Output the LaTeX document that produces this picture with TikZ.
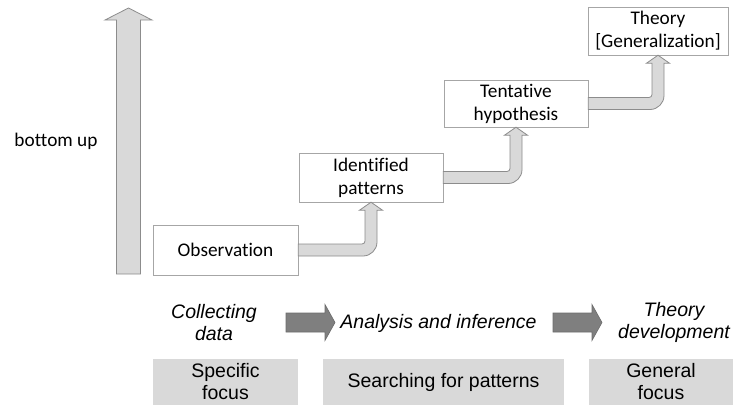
\documentclass[tikz,border=0pt]{standalone}
\usepackage{fontspec}
\setmainfont{Carlito}[Ligatures=CommonOff]
\newfontfamily\arialfont{Liberation Sans}
\usetikzlibrary{calc}
\definecolor{lightfill}{HTML}{D9D9D9}
\definecolor{boxline}{HTML}{A6A6A6}
\definecolor{arrowline}{HTML}{8C8C8C}
\definecolor{darkfill}{HTML}{7F7F7F}

\begin{document}
\begin{tikzpicture}[x=1pt,y=-1pt,
  every node/.style={font=\fontsize{19.3}{23}\selectfont,align=center},
  stage/.style={draw=boxline,fill=white,minimum width=144pt,minimum height=48pt,inner sep=2pt},
  focus/.style={fill=lightfill,minimum height=46pt,inner sep=2pt,font=\arialfont\fontsize{19.5}{22}\selectfont},
  phase/.style={font=\arialfont\itshape\fontsize{19.5}{22}\selectfont},
  stepflow/.style={fill=lightfill,draw=arrowline,line width=0.8pt},
  flow/.style={fill=darkfill,draw=darkfill!85!black,line width=0.6pt}]
\useasboundingbox (0,0) rectangle (733,405);
% bottom up arrow
\filldraw[stepflow] (116.5,274) -- (116.5,20) -- (105,20) -- (128.5,8) -- (152,20) -- (140.5,20) -- (140.5,274) -- cycle;
\node (bu) at (56,141) {bottom up};
% stages
\node[stage,minimum width=145pt,minimum height=50pt] (obs) at (225.5,250) {Observation};
\node[stage,minimum height=49pt] (ident) at (371,177.5) {Identified\\patterns};
\node[stage,minimum height=47pt] (tent) at (516,103.5) {Tentative\\hypothesis};
\node[stage,minimum width=140pt] (theory) at (658,31) {Theory\\{[Generalization]}};
\foreach \s/\t in {obs/ident,ident/tent,tent/theory}
  \filldraw[stepflow] let \p1=(\s.east), \p2=(\t.south) in
    (\x1,\y1-6pt) [rounded corners=14pt] -- (\x2+6pt,\y1-6pt) [sharp corners] -- (\x2+6pt,\y2-8pt)
    -- (\x2+11.5pt,\y2-8pt) -- (\x2,\y2) -- (\x2-11.5pt,\y2-8pt) -- (\x2-6pt,\y2-8pt)
    [rounded corners=3pt] -- (\x2-6pt,\y1+6pt) [sharp corners] -- (\x1,\y1+6pt) -- cycle;
% phases
\node[phase] (coll) at (214,323) {Collecting\\data};
\node[phase] (anl) at (438.5,323) {Analysis and inference};
\node[phase] (dev) at (674,322) {Theory\\development};
\coordinate (d1) at (286,322.5);
\coordinate (d2) at (335,322.5);
\coordinate (d3) at (553,322.5);
\coordinate (d4) at (602,322.5);
\foreach \s/\t in {d1/d2,d3/d4}
  \filldraw[flow] let \p1=(\s), \p2=(\t) in
    (\x1,\y1+9.5pt) -- (\x2-10pt,\y1+9.5pt) -- (\x2-10pt,\y1+18pt) -- (\x2,\y1)
    -- (\x2-10pt,\y1-18pt) -- (\x2-10pt,\y1-9.5pt) -- (\x1,\y1-9.5pt) -- cycle;
% focus
\node[focus,minimum width=145pt] (spec) at (225.5,382) {Specific\\focus};
\node[focus,minimum width=241pt] (search) at (443.5,382) {Searching for patterns};
\node[focus,minimum width=144pt] (gen) at (661,382) {General\\focus};
\end{tikzpicture}
\end{document}
